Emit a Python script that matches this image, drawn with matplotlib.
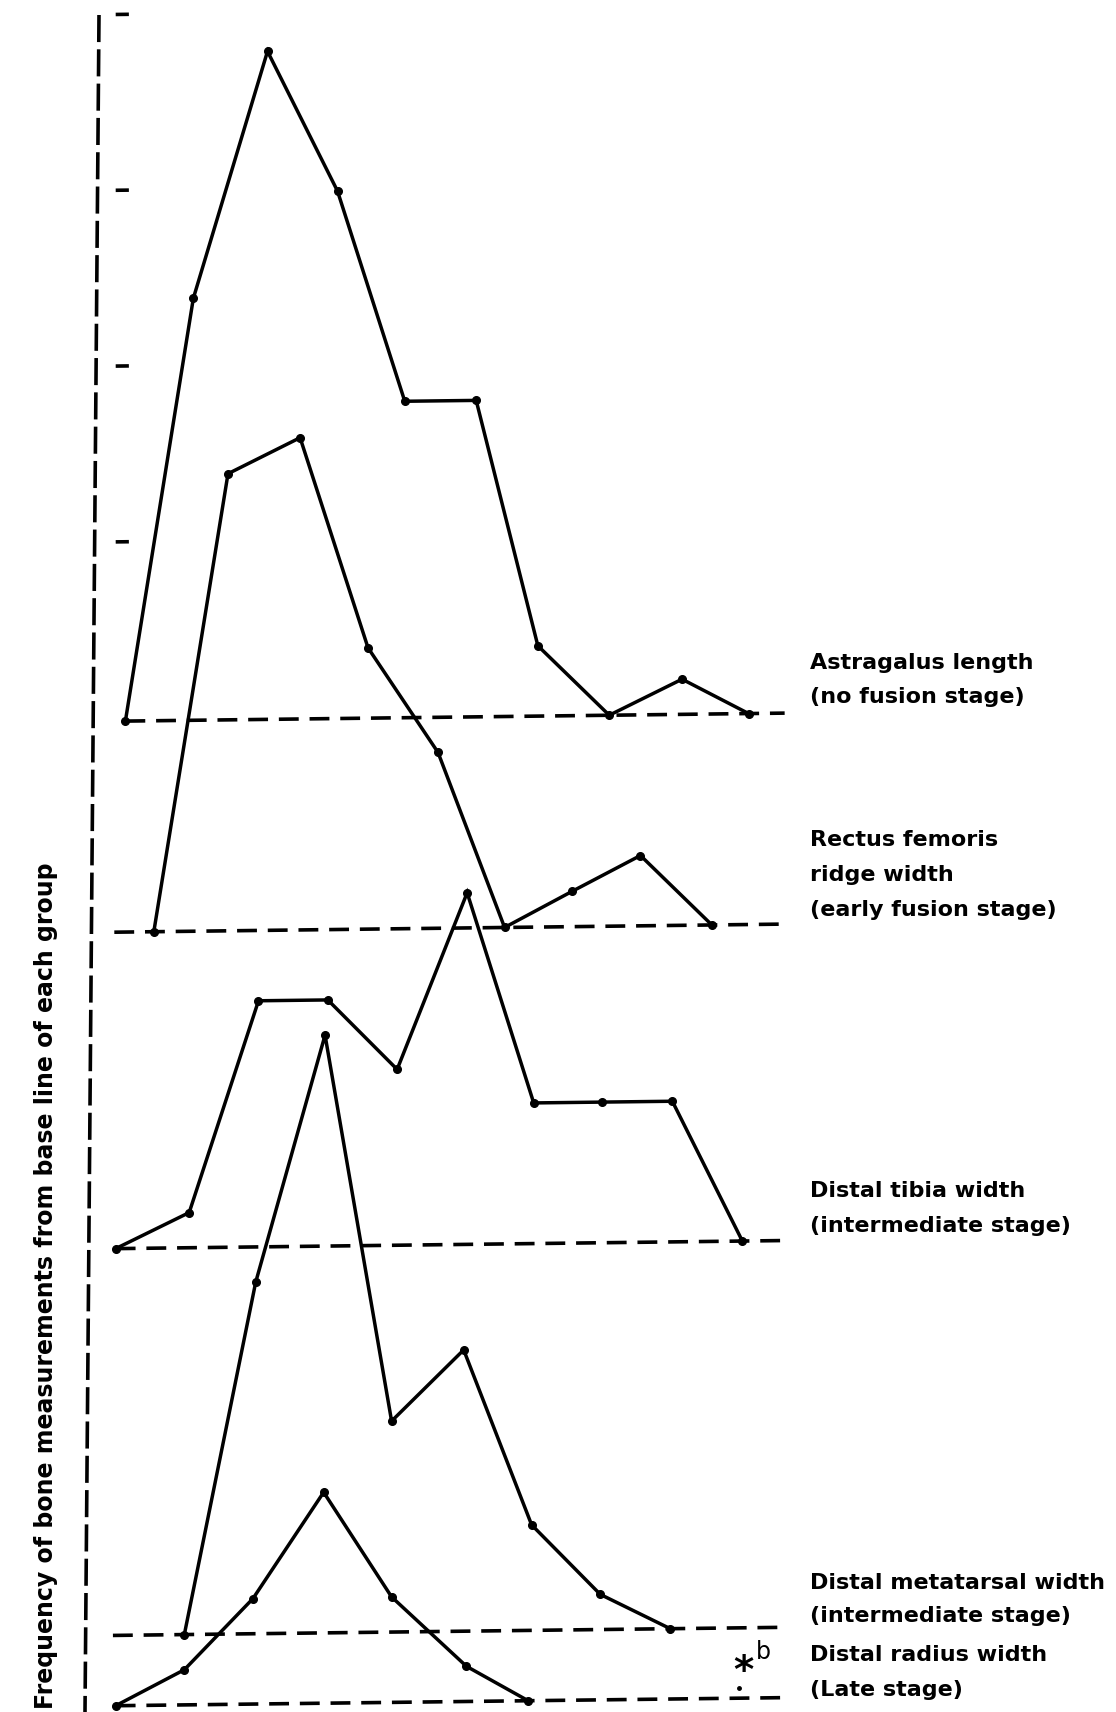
import numpy as np
import matplotlib
matplotlib.use("Agg")
import matplotlib.pyplot as plt
from matplotlib.transforms import Affine2D

# ---- data: counts per measurement class (one tick = 5 measurements) ----
astragalus_x = [0.14, 1.12, 2.19, 3.20, 4.17, 5.20, 6.09, 7.12, 8.17, 9.13]
astragalus_y = [0, 12, 19, 15, 9, 9, 2, 0, 1, 0]
rectus_x = [0.55, 1.62, 2.66, 3.64, 4.65, 5.61, 6.58, 7.57, 8.60]
rectus_y = [0, 13, 14, 8, 5, 0, 1, 2, 0]
tibia_x = [0.0, 1.06, 2.06, 3.06, 4.06, 5.07, 6.03, 7.01, 8.03, 9.04]
tibia_y = [0, 1, 7, 7, 5, 10, 4, 4, 4, 0]
metatarsal_x = [0.99, 2.02, 3.02, 3.98, 5.02, 6.00, 6.99, 8.00]
metatarsal_y = [0, 10, 17, 6, 8, 3, 1, 0]
radius_x = [0.0, 0.99, 1.98, 3.00, 3.98, 5.06, 5.95]
radius_y = [0, 1, 3, 6, 3, 1, 0]

baselines = [28, 22, 13, 2, 0]
baseline_start = [0.14, -0.02, 0.0, -0.04, 0.0]
baseline_end = 9.65
tick_values = [5, 10, 15, 20]

labels = [
    ["Astragalus length", "(no fusion stage)"],
    ["Rectus femoris", "ridge width", "(early fusion stage)"],
    ["Distal tibia width", "(intermediate stage)"],
    ["Distal metatarsal width", "(intermediate stage)"],
    ["Distal radius width", "(Late stage)"],
]
label_y_px = [[663, 697], [840, 875, 910], [1191, 1226], [1583, 1616], [1655, 1690]]
ylabel = "Frequency of bone measurements from base line of each group"

series = [(astragalus_x, astragalus_y), (rectus_x, rectus_y), (tibia_x, tibia_y),
          (metatarsal_x, metatarsal_y), (radius_x, radius_y)]

W, H = 1116, 1712
fig = plt.figure(figsize=(W / 100, H / 100), dpi=100)
ax = fig.add_axes([0, 0, 1, 1])
ax.set_xlim(-1.669, 14.43)
ax.set_ylim(-0.18, 48.51)
ax.axis("off")

# slight tilt of the scanned drawing
s = 0.0121
shear = Affine2D(np.array([[1, 0, 0], [s, 1, -s * 120], [0, 0, 1]]))
tr = ax.transData + shear

for (xs, ys), base, x0 in zip(series, baselines, baseline_start):
    yy = [base + v for v in ys]
    ax.plot([x0, baseline_end], [base, base], color="black", lw=2.6,
            dashes=(5.5, 3.0), transform=tr)
    ax.plot(xs, yy, color="black", lw=2.5, marker="o", ms=5.5,
            solid_joinstyle="miter", transform=tr)

for t in tick_values:
    ax.plot([-0.0, 0.19], [baselines[0] + t + 0.1, baselines[0] + t + 0.1],
            color="black", lw=2.6, transform=tr, solid_capstyle="butt")

# vertical dashed axis
ax.plot([99 / W, 85 / W], [1 - 15 / H, 0], color="black", lw=2.6,
        dashes=(7.5, 2.0), transform=ax.transAxes)

for lines, ys in zip(labels, label_y_px):
    for txt, y in zip(lines, ys):
        fig.text(810 / W, 1 - y / H, txt, fontsize=16, fontweight="bold",
                 family="DejaVu Sans", va="center", ha="left")

fig.text(46 / W, 1 - 1286 / H, ylabel, rotation=90, fontsize=17,
         fontweight="bold", family="DejaVu Sans", va="center", ha="center")

# asterisk note
fig.text(743 / W, 1 - 1672 / H, "*", fontsize=28, fontweight="bold",
         va="center", ha="center")
fig.text(763 / W, 1 - 1652 / H, "b", fontsize=17, va="center", ha="center")
ax.plot([739 / W], [1 - 1688 / H], marker="o", ms=2.5, color="black",
        transform=ax.transAxes)

fig.savefig("out.png", dpi=100)
